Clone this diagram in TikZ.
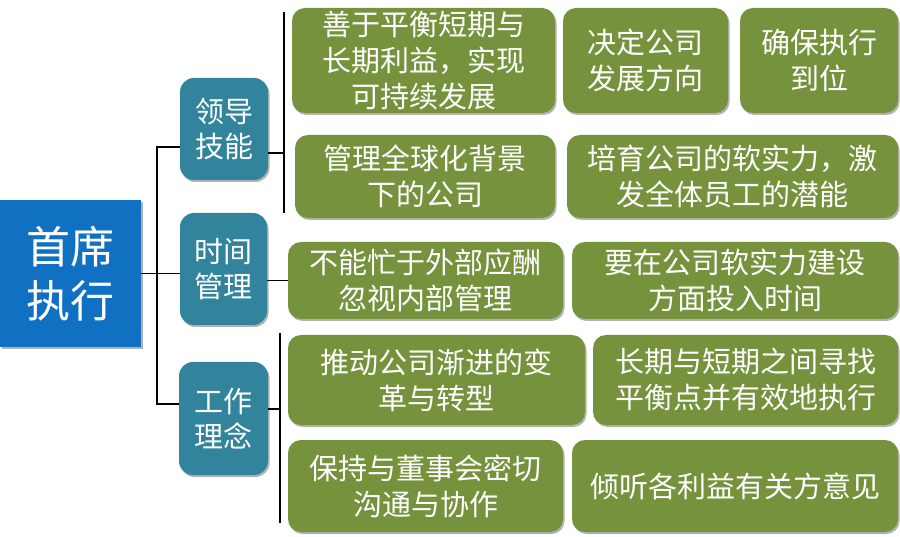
\documentclass[tikz,border=0pt]{standalone}
\usepackage{fontspec}
\setmainfont{Noto Sans CJK SC}
\usetikzlibrary{shadows}
\definecolor{rootblue}{HTML}{1070C2}
\definecolor{midteal}{HTML}{31849B}
\definecolor{leafgreen}{HTML}{76923C}
\tikzset{
  base/.style={inner sep=0pt, align=center, text=white,
    drop shadow={shadow xshift=1.5pt, shadow yshift=-2pt, opacity=0.3, fill=black}},
  rootbox/.style={base, fill=rootblue, font=\fontsize{44}{54}\selectfont},
  midbox/.style={base, fill=midteal, rounded corners=14pt, font=\fontsize{29}{35}\selectfont},
  leafbox/.style={base, fill=leafgreen, rounded corners=13pt, font=\fontsize{29}{36}\selectfont},
  conn/.style={draw=black, line width=1.8pt}
}
\begin{document}
\begin{tikzpicture}[x=1pt,y=-1pt]
\useasboundingbox[fill=white] (0,0) rectangle (900,537);
% root
\node[rootbox, minimum width=141, minimum height=147] (root) at (70.5,273.5) {首席\\执行};
% middle
\node[midbox, minimum width=88, minimum height=102] (L1) at (224,129) {领导\\技能};
\node[midbox, minimum width=87, minimum height=112] (L2) at (223.5,269) {时间\\管理};
\node[midbox, minimum width=89, minimum height=113] (L3) at (223.5,418.5) {工作\\理念};
% leaves
\node[leafbox, minimum width=263, minimum height=105] (A) at (423.5,60.5) {善于平衡短期与\\长期利益，实现\\可持续发展};
\node[leafbox, minimum width=165, minimum height=105] (B) at (645.5,60.5) {决定公司\\发展方向};
\node[leafbox, minimum width=158, minimum height=105] (C) at (819,60.5) {确保执行\\到位};
\node[leafbox, minimum width=260, minimum height=83] (D) at (425,176.5) {管理全球化背景\\下的公司};
\node[leafbox, minimum width=331, minimum height=83] (E) at (732.5,176.5) {培育公司的软实力，激\\发全体员工的潜能};
\node[leafbox, minimum width=275, minimum height=77] (F) at (425.5,280.5) {不能忙于外部应酬\\忽视内部管理};
\node[leafbox, minimum width=326, minimum height=77] (G) at (735,280.5) {要在公司软实力建设\\方面投入时间};
\node[leafbox, minimum width=297, minimum height=90] (H) at (436.5,380) {推动公司渐进的变\\革与转型};
\node[leafbox, minimum width=305, minimum height=90] (I) at (745.5,380) {长期与短期之间寻找\\平衡点并有效地执行};
\node[leafbox, minimum width=275, minimum height=92] (J) at (425.5,486) {保持与董事会密切\\沟通与协作};
\node[leafbox, minimum width=326, minimum height=92] (K) at (735,486) {倾听各利益有关方意见};
% connectors
\coordinate (tTop) at (157,147);
\coordinate (tBot) at (157,404);
\coordinate (tMid) at (157,273.5);
\draw[conn] (tTop -| L1.west) -- (tTop) -- (tBot) -- (tBot -| L3.west);
\draw[conn] (root.east) -- (tMid -| L2.west);
\coordinate (v1t) at (284,12);
\coordinate (v1b) at (284,213);
\coordinate (v1m) at (284,153);
\draw[conn] (v1t) -- (v1b);
\draw[conn] (v1m -| L1.east) -- (v1m);
\draw[conn] (F.west -| L2.east) -- (F.west);
\coordinate (v3t) at (280,333);
\coordinate (v3b) at (280,523);
\coordinate (v3m) at (280,409);
\draw[conn] (v3t) -- (v3b);
\draw[conn] (v3m -| L3.east) -- (v3m);
\end{tikzpicture}
\end{document}
